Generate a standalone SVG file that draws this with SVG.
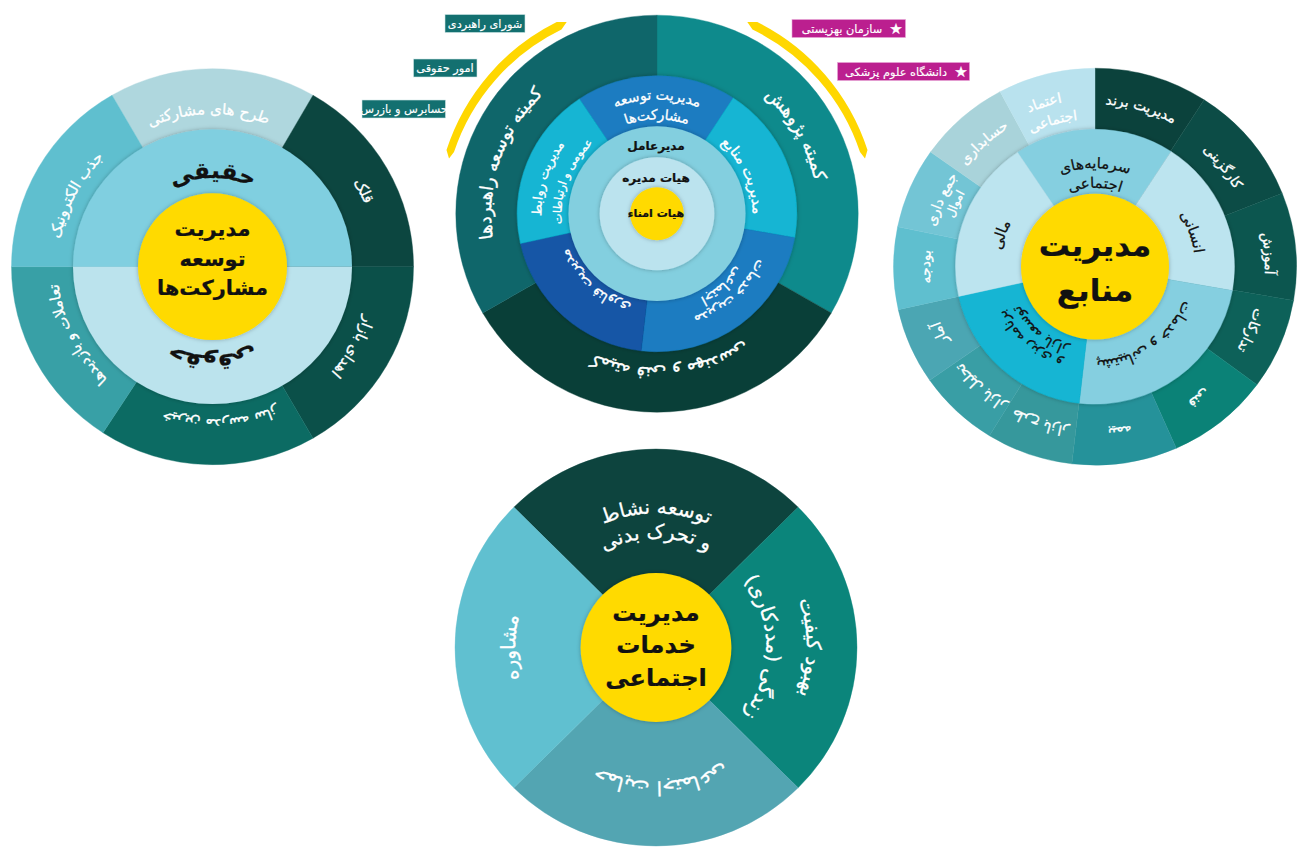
<svg xmlns="http://www.w3.org/2000/svg" width="1311" height="854" viewBox="0 0 1311 854">
<style>
text{font-family:"DejaVu Sans","Noto Sans",sans-serif;direction:rtl;text-anchor:middle}
.w{fill:#fff;stroke:#fff;stroke-width:.3}.d{fill:#111;stroke:#111;stroke-width:.25}.b{font-weight:700}
.tag{font-size:11.3px;fill:#fff;stroke:#fff;stroke-width:.15}
.pie path{stroke-width:.4}
</style>
<defs>
<filter id="sh" x="-15%" y="-15%" width="130%" height="130%"><feDropShadow dx="0" dy="0" stdDeviation="2.2" flood-color="#000" flood-opacity=".28"/></filter>
<path id="r80" d="M-80,0A80,80 0 0 1 80,0"/>
<path id="r85" d="M-85,0A85,85 0 0 1 85,0"/>
<path id="r90" d="M-90,0A90,90 0 0 1 90,0"/>
<path id="r95" d="M-95,0A95,95 0 0 1 95,0"/>
<path id="r100" d="M-100,0A100,100 0 0 1 100,0"/>
<path id="r110" d="M-110,0A110,110 0 0 1 110,0"/>
<path id="r115" d="M-115,0A115,115 0 0 1 115,0"/>
<path id="r135" d="M-135,0A135,135 0 0 1 135,0"/>
<path id="r140" d="M-140,0A140,140 0 0 1 140,0"/>
<path id="r150" d="M-150,0A150,150 0 0 1 150,0"/>
<path id="r155" d="M-155,0A155,155 0 0 1 155,0"/>
<path id="r160" d="M-160,0A160,160 0 0 1 160,0"/>
<path id="r165" d="M-165,0A165,165 0 0 1 165,0"/>
<path id="r170" d="M-170,0A170,170 0 0 1 170,0"/>
</defs>

<g id="wheel-left" transform="translate(212.5,266.7) scale(1,.985)">
 <g id="left-outer" class="pie">
  <path fill="#afd7de" stroke="#afd7de" d="M0,0L-100.5,-174.07A201,201 0 0 1 100.5,-174.07Z"/>
  <path fill="#0c4640" stroke="#0c4640" d="M0,0L100.5,-174.07A201,201 0 0 1 201,0Z"/>
  <path fill="#0b5049" stroke="#0b5049" d="M0,0L201,0A201,201 0 0 1 100.5,174.07Z"/>
  <path fill="#0c6b63" stroke="#0c6b63" d="M0,0L100.5,174.07A201,201 0 0 1 -109.47,168.57Z"/>
  <path fill="#38a0a6" stroke="#38a0a6" d="M0,0L-109.47,168.57A201,201 0 0 1 -201,0Z"/>
  <path fill="#5fbfcf" stroke="#5fbfcf" d="M0,0L-201,0A201,201 0 0 1 -100.5,-174.07Z"/>
 </g>
 <g id="left-mid" filter="url(#sh)"><path d="M-139.5,0A139.5,139.5 0 0 1 139.5,0Z" fill="#80cfe0"/><path d="M-139.5,0A139.5,139.5 0 0 0 139.5,0Z" fill="#bbe3ed"/></g>
 <circle id="left-core" r="74.5" fill="#ffda00" filter="url(#sh)"/>
 <g class="w" font-size="15">
  <text transform="rotate(-1.5)"><textPath href="#r155" startOffset="50%">طرح های مشارکتی</textPath></text>
  <text transform="rotate(63)"><textPath href="#r165" startOffset="50%">قلک</textPath></text>
  <text transform="rotate(120)"><textPath href="#r160" startOffset="50%">اهدای بازار</textPath></text>
  <text transform="rotate(177)"><textPath href="#r155" startOffset="50%">خیرین مدرسه ساز</textPath></text>
  <text transform="rotate(243)"><textPath href="#r155" startOffset="50%">تعاملات و بازدیدها</textPath></text>
  <text transform="rotate(298)"><textPath href="#r155" startOffset="50%">جذب الکترونیک</textPath></text>
 </g>
 <g font-size="23">
  <text class="d b" transform="rotate(0)"><textPath href="#r90" startOffset="50%">حقیقی</textPath></text>
  <text class="d b" transform="rotate(180)"><textPath href="#r90" startOffset="50%">حقوقی</textPath></text>
 </g>
 <g font-size="21">
  <text class="d b" y="-31">مدیریت</text><text class="d b" y="-1">توسعه</text><text class="d b" y="29">مشارکت‌ها</text>
 </g>
</g>

<g id="wheel-center" transform="translate(657,213.7) scale(1.006,.9925)">
 <g id="center-outer" class="pie">
  <path fill="#0e8a8c" stroke="#0e8a8c" d="M0,0L0,-200A200,200 0 0 1 173.2,100Z"/>
  <path fill="#093f38" stroke="#093f38" d="M0,0L173.2,100A200,200 0 0 1 -173.2,100Z"/>
  <path fill="#0f666a" stroke="#0f666a" d="M0,0L-173.2,100A200,200 0 0 1 0,-200Z"/>
 </g>
 <g id="center-ring2" class="pie" filter="url(#sh)">
  <path fill="#1a7cc1" stroke="#1a7cc1" d="M0,0L-77.12,-115.65A139,139 0 0 1 75.7,-116.58Z"/>
  <path fill="#12b5d3" stroke="#12b5d3" d="M0,0L75.7,-116.58A139,139 0 0 1 136.89,24.14Z"/>
  <path fill="#1a7cc1" stroke="#1a7cc1" d="M0,0L136.89,24.14A139,139 0 0 1 -15.73,138.11Z"/>
  <path fill="#1356a6" stroke="#1356a6" d="M0,0L-15.73,138.11A139,139 0 0 1 -135.71,30.08Z"/>
  <path fill="#12b5d3" stroke="#12b5d3" d="M0,0L-135.71,30.08A139,139 0 0 1 -77.12,-115.65Z"/>
 </g>
 <circle id="center-ring3" r="88" fill="#83cfdf" filter="url(#sh)"/>
 <circle id="center-ring4" r="57" fill="#bbe3ee" filter="url(#sh)"/>
 <circle id="center-core" r="26.7" fill="#ffda00" filter="url(#sh)"/>
 <g class="w">
  <text font-size="18" transform="rotate(60)"><textPath href="#r160" startOffset="50%">کمیته پژوهش</textPath></text>
  <text font-size="18" transform="rotate(289)"><textPath href="#r165" startOffset="50%">کمیته توسعه راهبردها</textPath></text>
  <text font-size="18" transform="rotate(175)"><textPath href="#r155" startOffset="50%">کمیته فنی و مهندسی</textPath></text>
  <text font-size="14" transform="rotate(0)"><textPath href="#r115" startOffset="50%">مدیریت توسعه</textPath></text>
  <text font-size="14" transform="rotate(0)"><textPath href="#r95" startOffset="50%">مشارکت‌ها</textPath></text>
  <text font-size="15" transform="rotate(66)"><textPath href="#r95" startOffset="50%">مدیریت منابع</textPath></text>
  <text font-size="13" transform="rotate(288)"><textPath href="#r115" startOffset="50%">مدیریت روابط</textPath></text>
  <text font-size="11.5" transform="rotate(291)"><textPath href="#r95" startOffset="50%">عمومی و ارتباطات</textPath></text>
  <text font-size="14" transform="rotate(137.5)"><textPath href="#r110" startOffset="50%">مدیریت خدمات</textPath></text>
  <text font-size="14" transform="rotate(138.5)"><textPath href="#r95" startOffset="50%">اجتماعی</textPath></text>
  <text font-size="14" transform="rotate(222)"><textPath href="#r95" startOffset="50%">مدیریت فناوری</textPath></text>
 </g>
 <g font-size="12">
  <text class="d b" x="-1" y="-64">مدیرعامل</text>
  <text class="d b" x="-1" y="-32">هیات مدیره</text>
  <text class="d b" font-size="11" x="-1" y="3.5">هیات امناء</text>
 </g>
</g>

<g id="connectors">
 <path d="M566.7,22L561.5,29.5A210,210 0 0 0 454,152L449,158.5L446.5,150A218,218 0 0 1 556.7,22Z" fill="#ffd700"/>
 <path d="M747.3,22L752.5,29.5A210,210 0 0 1 860,152L865,158.5L867.5,150A218,218 0 0 0 757.3,22Z" fill="#ffd700"/>
</g>

<g id="tag-shora"><rect x="445" y="14.5" width="80" height="18" fill="#137070" stroke="#cfe6e6" stroke-width=".6"/><text class="tag" x="485" y="27.5">شورای راهبردی</text></g>
<g id="tag-omoor"><rect x="413.5" y="59" width="63.5" height="18" fill="#137070" stroke="#cfe6e6" stroke-width=".6"/><text class="tag" x="445" y="72">امور حقوقی</text></g>
<g id="tag-hesabres"><rect x="362" y="100" width="83.5" height="18" fill="#137070" stroke="#cfe6e6" stroke-width=".6"/><text class="tag" x="404" y="113">حسابرس و بازرس</text></g>
<g id="tag-behzisti"><rect x="792" y="19.5" width="113.5" height="18" fill="#bb1f8f" stroke="#e8a6d6" stroke-width=".6"/><text class="tag" x="842" y="32.5">سازمان بهزیستی</text><text class="tag" x="896" y="33.5" style="font-size:15px">★</text></g>
<g id="tag-olum"><rect x="837.5" y="62.5" width="132" height="18" fill="#bb1f8f" stroke="#e8a6d6" stroke-width=".6"/><text class="tag" x="896" y="75.5">دانشگاه علوم پزشکی</text><text class="tag" x="961" y="76.5" style="font-size:15px">★</text></g>

<g id="wheel-right" transform="translate(1095,266.7) scale(1,.985)">
 <g id="right-outer" class="pie">
  <path fill="#0b423c" stroke="#0b423c" d="M0,0L0,-201.5A201.5,201.5 0 0 1 109.15,-169.38Z"/>
  <path fill="#0c4c46" stroke="#0c4c46" d="M0,0L109.15,-169.38A201.5,201.5 0 0 1 187.21,-74.5Z"/>
  <path fill="#0c564f" stroke="#0c564f" d="M0,0L187.21,-74.5A201.5,201.5 0 0 1 198.56,34.3Z"/>
  <path fill="#0d6159" stroke="#0d6159" d="M0,0L198.56,34.3A201.5,201.5 0 0 1 161.99,119.85Z"/>
  <path fill="#0b8277" stroke="#0b8277" d="M0,0L161.99,119.85A201.5,201.5 0 0 1 81.31,184.37Z"/>
  <path fill="#25929a" stroke="#25929a" d="M0,0L81.31,184.37A201.5,201.5 0 0 1 -23.15,200.17Z"/>
  <path fill="#36989c" stroke="#36989c" d="M0,0L-23.15,200.17A201.5,201.5 0 0 1 -105.59,171.62Z"/>
  <path fill="#399ea5" stroke="#399ea5" d="M0,0L-105.59,171.62A201.5,201.5 0 0 1 -165.27,115.28Z"/>
  <path fill="#4ba6b3" stroke="#4ba6b3" d="M0,0L-165.27,115.28A201.5,201.5 0 0 1 -196.72,43.61Z"/>
  <path fill="#5fbfcf" stroke="#5fbfcf" d="M0,0L-196.72,43.61A201.5,201.5 0 0 1 -197.39,-40.52Z"/>
  <path fill="#73c5d5" stroke="#73c5d5" d="M0,0L-197.39,-40.52A201.5,201.5 0 0 1 -164.44,-116.45Z"/>
  <path fill="#a9d3da" stroke="#a9d3da" d="M0,0L-164.44,-116.45A201.5,201.5 0 0 1 -94.91,-177.74Z"/>
  <path fill="#b9e2ee" stroke="#b9e2ee" d="M0,0L-94.91,-177.74A201.5,201.5 0 0 1 0,-201.5Z"/>
 </g>
 <g id="right-mid" class="pie" filter="url(#sh)">
  <path fill="#85cfe0" stroke="#85cfe0" d="M0,0L-77.4,-116.06A139.5,139.5 0 0 1 75.97,-117Z"/>
  <path fill="#bce4ef" stroke="#bce4ef" d="M0,0L75.97,-117A139.5,139.5 0 0 1 137.38,24.22Z"/>
  <path fill="#85cfe0" stroke="#85cfe0" d="M0,0L137.38,24.22A139.5,139.5 0 0 1 -15.79,138.61Z"/>
  <path fill="#12b5d3" stroke="#12b5d3" d="M0,0L-15.79,138.61A139.5,139.5 0 0 1 -136.19,30.19Z"/>
  <path fill="#bce4ef" stroke="#bce4ef" d="M0,0L-136.19,30.19A139.5,139.5 0 0 1 -77.4,-116.06Z"/>
 </g>
 <circle id="right-core" r="74" fill="#ffda00" filter="url(#sh)"/>
 <g class="w" font-size="14">
  <text transform="rotate(16)"><textPath href="#r165" startOffset="50%">مدیریت برند</textPath></text>
  <text transform="rotate(51.5)"><textPath href="#r160" startOffset="50%">کارگزینی</textPath></text>
  <text transform="rotate(85.5)"><textPath href="#r170" startOffset="50%">آموزش</textPath></text>
  <text transform="rotate(112.5)"><textPath href="#r165" startOffset="50%">تدارکات</textPath></text>
  <text transform="rotate(142)"><textPath href="#r165" startOffset="50%">فنی</textPath></text>
  <text transform="rotate(171.5)"><textPath href="#r165" startOffset="50%">بیمه</textPath></text>
  <text transform="rotate(199)"><textPath href="#r165" startOffset="50%">طرح بازار</textPath></text>
  <text transform="rotate(223)"><textPath href="#r165" startOffset="50%">تحلیل بازار</textPath></text>
  <text transform="rotate(246.5)"><textPath href="#r165" startOffset="50%">آمار</textPath></text>
  <text transform="rotate(270)"><textPath href="#r165" startOffset="50%">بودجه</textPath></text>
  <text transform="rotate(294)"><textPath href="#r165" startOffset="50%">جمع داری</textPath></text>
  <text font-size="12" transform="rotate(294.5)"><textPath href="#r150" startOffset="50%">اموال</textPath></text>
  <text transform="rotate(318.5)"><textPath href="#r165" startOffset="50%">حسابداری</textPath></text>
  <text transform="rotate(343)"><textPath href="#r170" startOffset="50%">اعتماد</textPath></text>
  <text transform="rotate(344)"><textPath href="#r150" startOffset="50%">اجتماعی</textPath></text>
 </g>
 <g font-size="15">
  <text class="d" transform="rotate(0)"><textPath href="#r100" startOffset="50%">سرمایه‌های</textPath></text>
  <text class="d" transform="rotate(0)"><textPath href="#r80" startOffset="50%">اجتماعی</textPath></text>
  <text class="d" transform="rotate(70)"><textPath href="#r100" startOffset="50%">انسانی</textPath></text>
  <text class="d" transform="rotate(145)"><textPath href="#r95" startOffset="50%">پشتیبانی و خدمات</textPath></text>
  <text class="d" font-size="14" transform="rotate(221.5)"><textPath href="#r100" startOffset="50%">برنامه ریزی و</textPath></text>
  <text class="d" font-size="14" transform="rotate(220)"><textPath href="#r85" startOffset="50%">توسعه بازار</textPath></text>
  <text class="d" transform="rotate(289)"><textPath href="#r95" startOffset="50%">مالی</textPath></text>
 </g>
 <g font-size="31">
  <text class="d b" y="-11">مدیریت</text><text class="d b" y="35">منابع</text>
 </g>
</g>

<g id="wheel-bottom" transform="translate(656,647.5) scale(1.005,.9925)">
 <g id="bottom-outer" class="pie">
  <path fill="#0d443e" stroke="#0d443e" d="M0,0L-141.42,-141.42A200,200 0 0 1 141.42,-141.42Z"/>
  <path fill="#0b857b" stroke="#0b857b" d="M0,0L141.42,-141.42A200,200 0 0 1 141.42,141.42Z"/>
  <path fill="#53a5b2" stroke="#53a5b2" d="M0,0L141.42,141.42A200,200 0 0 1 -141.42,141.42Z"/>
  <path fill="#60c0d0" stroke="#60c0d0" d="M0,0L-141.42,141.42A200,200 0 0 1 -141.42,-141.42Z"/>
 </g>
 <circle id="bottom-core" r="75" fill="#ffda00" filter="url(#sh)"/>
 <g class="w" font-size="20">
  <text transform="rotate(0)"><textPath href="#r135" startOffset="50%">توسعه نشاط</textPath></text>
  <text transform="rotate(0)"><textPath href="#r110" startOffset="50%">و تحرک بدنی</textPath></text>
  <text transform="rotate(270)"><textPath href="#r140" startOffset="50%">مشاوره</textPath></text>
  <text transform="rotate(90)"><textPath href="#r150" startOffset="50%">بهبود کیفیت</textPath></text>
  <text transform="rotate(90)"><textPath href="#r110" startOffset="50%">زندگی (مددکاری)</textPath></text>
  <text transform="rotate(178)"><textPath href="#r135" startOffset="50%">حمایت اجتماعی</textPath></text>
 </g>
 <g font-size="24">
  <text class="d b" y="-27">مدیریت</text><text class="d b" y="6">خدمات</text><text class="d b" y="39">اجتماعی</text>
 </g>
</g>
</svg>
